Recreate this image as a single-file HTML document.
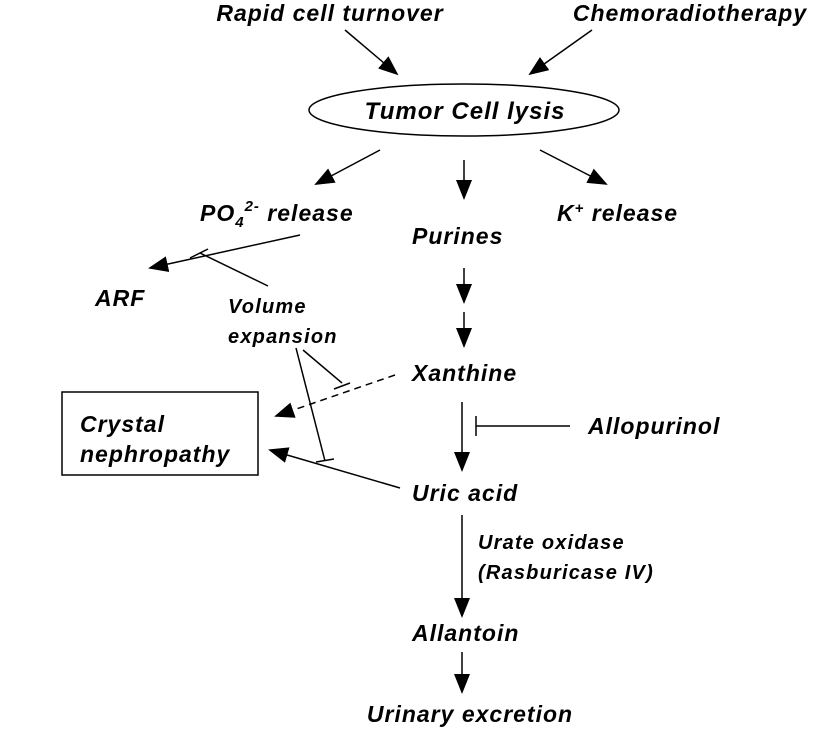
<!DOCTYPE html>
<html><head><style>html,body{margin:0;padding:0;background:#fff}svg{display:block}</style></head>
<body>
<svg width="830" height="729" viewBox="0 0 830 729" xmlns="http://www.w3.org/2000/svg" font-family="Liberation Sans, sans-serif" font-weight="bold" font-style="italic" fill="#000">
<defs>
<marker id="b" markerWidth="20" markerHeight="20" refX="18" refY="10" orient="auto" markerUnits="userSpaceOnUse" viewBox="0 0 20 20"><path d="M0,2 L20,10 L0,18z"/></marker>
</defs>
<g font-size="23" letter-spacing="1">
<text x="330" y="21" text-anchor="middle">Rapid cell turnover</text>
<text x="690" y="21" text-anchor="middle">Chemoradiotherapy</text>
<text x="465" y="119" text-anchor="middle" font-size="24">Tumor Cell lysis</text>
<text x="200" y="221">PO<tspan font-size="15" dy="6">4</tspan><tspan font-size="15" dy="-16">2-</tspan><tspan dy="10"> release</tspan></text>
<text x="412" y="244">Purines</text>
<text x="557" y="221">K<tspan font-size="15" dy="-8">+</tspan><tspan dy="8"> release</tspan></text>
<text x="95" y="306">ARF</text>
<text x="412" y="381">Xanthine</text>
<text x="80" y="432">Crystal</text>
<text x="80" y="462">nephropathy</text>
<text x="588" y="434">Allopurinol</text>
<text x="412" y="501">Uric acid</text>
<text x="412" y="641">Allantoin</text>
<text x="470" y="722" text-anchor="middle">Urinary excretion</text>
</g>
<g font-size="20" letter-spacing="1.2">
<text x="228" y="313">Volume</text>
<text x="228" y="343">expansion</text>
<text x="478" y="549">Urate oxidase</text>
<text x="478" y="579">(Rasburicase IV)</text>
</g>
<ellipse cx="464" cy="110" rx="155" ry="26" fill="none" stroke="#000" stroke-width="1.5"/>
<rect x="62" y="392" width="196" height="83" fill="none" stroke="#000" stroke-width="1.5"/>
<g stroke="#000" stroke-width="1.5" fill="none">
<line x1="345" y1="30" x2="397" y2="74" marker-end="url(#b)"/>
<line x1="592" y1="30" x2="530" y2="74" marker-end="url(#b)"/>
<line x1="380" y1="150" x2="316" y2="184" marker-end="url(#b)"/>
<line x1="464" y1="160" x2="464" y2="198" marker-end="url(#b)"/>
<line x1="540" y1="150" x2="606" y2="184" marker-end="url(#b)"/>
<line x1="300" y1="235" x2="150" y2="268" marker-end="url(#b)"/>
<line x1="268" y1="286" x2="200" y2="253"/>
<line x1="190" y1="258" x2="208" y2="249"/>
<line x1="464" y1="268" x2="464" y2="302" marker-end="url(#b)"/>
<line x1="464" y1="312" x2="464" y2="346" marker-end="url(#b)"/>
<line x1="395" y1="375" x2="276" y2="416" stroke-dasharray="7,5" marker-end="url(#b)"/>
<line x1="303" y1="350" x2="342" y2="383"/>
<line x1="334" y1="389" x2="350" y2="383"/>
<line x1="296" y1="348" x2="325" y2="461"/>
<line x1="316" y1="462" x2="334" y2="459"/>
<line x1="400" y1="488" x2="270" y2="450" marker-end="url(#b)"/>
<line x1="462" y1="402" x2="462" y2="470" marker-end="url(#b)"/>
<line x1="476" y1="426" x2="570" y2="426"/>
<line x1="476" y1="416" x2="476" y2="436"/>
<line x1="462" y1="515" x2="462" y2="616" marker-end="url(#b)"/>
<line x1="462" y1="652" x2="462" y2="692" marker-end="url(#b)"/>
</g>
</svg>
</body></html>
